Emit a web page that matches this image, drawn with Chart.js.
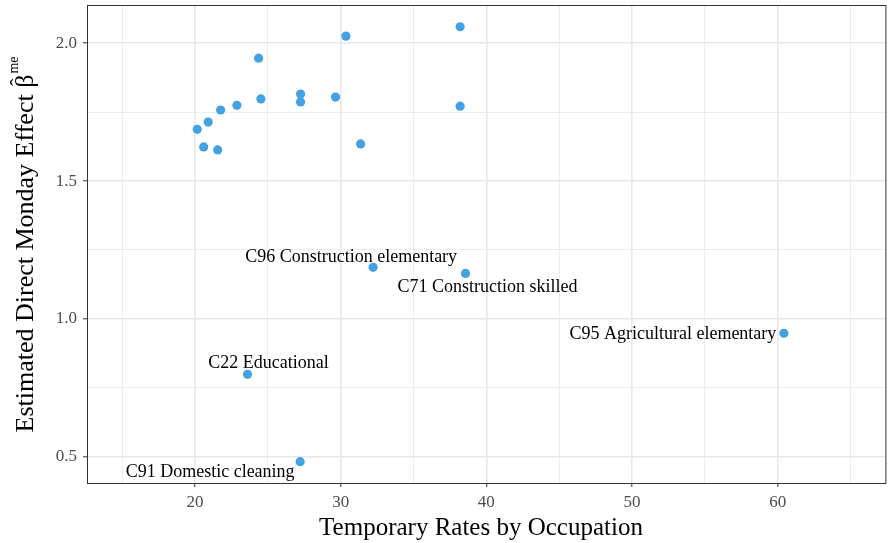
<!DOCTYPE html>
<html>
<head>
<meta charset="utf-8">
<script src="https://cdn.jsdelivr.net/npm/chart.js@4.4.0/dist/chart.umd.min.js"></script>
<style>
  html, body { margin: 0; padding: 0; background: #fff; }
</style>
</head>
<body>
<canvas id="chart" width="891" height="543"></canvas>
<script>
// temporary rate (%) and estimated direct Monday effect per occupation
const tempRates = [20.16, 20.60, 20.91, 21.56, 21.76, 22.88, 24.37, 24.53, 27.25, 27.25,
  29.65, 30.36, 31.37, 38.20, 38.20, 32.23, 38.57, 60.42, 23.61, 27.22];
const mondayEffect = [1.688, 1.624, 1.714, 1.613, 1.758, 1.775, 1.946, 1.798, 1.816, 1.787,
  1.805, 2.026, 1.635, 2.060, 1.772, 1.187, 1.165, 0.948, 0.799, 0.482];
const occupations = ["", "", "", "", "", "", "", "", "", "",
  "", "", "", "", "",
  "C96 Construction elementary", "C71 Construction skilled",
  "C95 Agricultural elementary", "C22 Educational", "C91 Domestic cleaning"];

const xTicks = [15, 20, 25, 30, 35, 40, 45, 50, 55, 60, 65];
const yTicks = [0.5, 0.75, 1.0, 1.25, 1.5, 1.75, 2.0];

// label placement relative to its point, in pixels (text centre x, baseline y)
const labelOffsets = {
  "C96 Construction elementary": [-22, -5.6],
  "C71 Construction skilled": [22, 19],
  "C95 Agricultural elementary": [-111, 5.7],
  "C22 Educational": [21, -6],
  "C91 Domestic cleaning": [-90, 15.3],
};

const serif = '"Liberation Serif", "DejaVu Serif", serif';
const gridColor = "#e8e8e8";

const isMajor = (v, step) => Math.abs(v / step - Math.round(v / step)) < 1e-6;

const decorations = {
  id: "decorations",
  afterDatasetsDraw(chart) {
    const { ctx, chartArea: a, scales: { x, y } } = chart;
    ctx.save();

    // point labels
    ctx.font = `18px ${serif}`;
    ctx.fillStyle = "#000";
    ctx.textAlign = "center";
    ctx.textBaseline = "alphabetic";
    occupations.forEach((name, i) => {
      if (!name) return;
      const [dx, dy] = labelOffsets[name];
      ctx.fillText(name, x.getPixelForValue(tempRates[i]) + dx, y.getPixelForValue(mondayEffect[i]) + dy);
    });

    // panel border
    ctx.strokeStyle = "#333";
    ctx.lineWidth = 1;
    ctx.strokeRect(a.left + 0.5, a.top - 0.5, a.right - a.left - 1, a.bottom - a.top + 1);

    // x title
    ctx.font = `25px ${serif}`;
    ctx.fillText("Temporary Rates by Occupation", 481, 535);

    // y title with hat and superscript
    const main = "Estimated Direct Monday Effect ";
    ctx.font = `26px ${serif}`;
    const wMain = ctx.measureText(main).width;
    const wBeta = ctx.measureText("β").width;
    ctx.font = `14px ${serif}`;
    const wSup = ctx.measureText("me").width;
    const total = wMain + wBeta + 1 + wSup;
    ctx.translate(32.5, (a.top + a.bottom) / 2 + total / 2);
    ctx.rotate(-Math.PI / 2);
    ctx.textAlign = "left";
    ctx.font = `26px ${serif}`;
    ctx.fillText(main, 0, 0);
    ctx.fillText("β", wMain, 0);
    ctx.textAlign = "center";
    ctx.font = `22px ${serif}`;
    ctx.fillText("ˆ", wMain + wBeta / 2 - 1, -8);
    ctx.textAlign = "left";
    ctx.font = `14px ${serif}`;
    ctx.fillText("me", wMain + wBeta + 1, -15);

    ctx.restore();
  },
};

new Chart(document.getElementById("chart"), {
  type: "scatter",
  data: {
    datasets: [{
      data: tempRates.map((v, i) => ({ x: v, y: mondayEffect[i] })),
      backgroundColor: "#45a2e2",
      borderWidth: 0,
      pointRadius: 4.6,
    }],
  },
  options: {
    responsive: false,
    animation: false,
    layout: { padding: { top: 6, right: 4, bottom: 0, left: 0 } },
    plugins: { legend: { display: false }, tooltip: { enabled: false } },
    scales: {
      x: {
        type: "linear",
        min: 12.593,
        max: 67.455,
        afterBuildTicks: (axis) => { axis.ticks = xTicks.map((v) => ({ value: v })); },
        afterFit: (axis) => { axis.height = 60; axis.paddingLeft = 0; axis.paddingRight = 0; },
        border: { display: false },
        grid: {
          color: gridColor,
          lineWidth: (c) => (isMajor(c.tick.value, 10) ? 1.6 : 0.8),
          tickLength: 4,
          tickWidth: 1,
          tickColor: (c) => (isMajor(c.tick.value, 10) ? "#333" : "rgba(0,0,0,0)"),
        },
        ticks: {
          autoSkip: false,
          maxRotation: 0,
          padding: 5,
          color: "#4d4d4d",
          font: { family: serif, size: 17 },
          callback: (v) => (isMajor(v, 10) ? String(v) : ""),
        },
      },
      y: {
        type: "linear",
        min: 0.4046,
        max: 2.1353,
        afterBuildTicks: (axis) => { axis.ticks = yTicks.map((v) => ({ value: v })); },
        afterFit: (axis) => { axis.width = 87; axis.paddingTop = 0; axis.paddingBottom = 0; },
        border: { display: false },
        grid: {
          color: gridColor,
          lineWidth: (c) => (isMajor(c.tick.value, 0.5) ? 1.6 : 0.8),
          tickLength: 4,
          tickWidth: 1,
          tickColor: (c) => (isMajor(c.tick.value, 0.5) ? "#333" : "rgba(0,0,0,0)"),
        },
        ticks: {
          autoSkip: false,
          padding: 6,
          color: "#4d4d4d",
          font: { family: serif, size: 17 },
          callback: (v) => (isMajor(v, 0.5) ? v.toFixed(1) : ""),
        },
      },
    },
  },
  plugins: [decorations],
});
</script>
</body>
</html>
